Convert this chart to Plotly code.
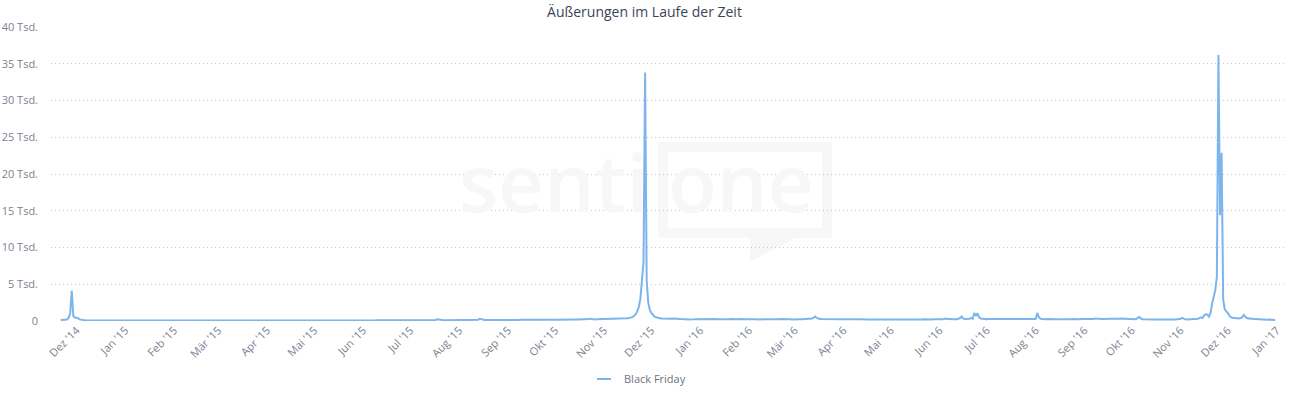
import pandas as pd
import plotly.graph_objects as go

# ---------------- data (daily mentions, "Black Friday") ----------------
start_date = "2014-11-21"

nov_2014 = [120, 150, 130, 160, 200, 420, 1000, 4150, 650, 480]
dec_2014 = [470, 380, 220, 150, 120, 110, 100, 95, 90, 100,
            95, 90, 85, 90, 95, 90, 85, 80, 85, 90,
            80, 75, 70, 60, 55, 60, 70, 75, 70, 80,
            90]
jan_2015 = [85, 70, 75, 80, 85, 80, 75, 80, 70, 65,
            70, 80, 85, 80, 75, 70, 65, 60, 75, 80,
            85, 80, 75, 70, 65, 75, 80, 85, 80, 75,
            70]
feb_2015 = [70, 75, 80, 85, 80, 75, 70, 65, 70, 80,
            75, 70, 65, 60, 70, 75, 80, 75, 70, 65,
            60, 70, 75, 80, 75, 70, 65, 70]
mar_2015 = [75, 80, 85, 80, 70, 65, 60, 70, 80, 85,
            80, 75, 70, 65, 60, 70, 75, 80, 85, 80,
            75, 70, 65, 70, 75, 80, 75, 70, 65, 60,
            70]
apr_2015 = [75, 80, 85, 90, 80, 70, 75, 80, 85, 80,
            75, 70, 65, 75, 80, 85, 80, 75, 70, 65,
            70, 80, 85, 90, 85, 80, 75, 70, 75, 80]
may_2015 = [85, 80, 75, 80, 85, 90, 85, 80, 75, 70,
            75, 80, 85, 80, 75, 70, 75, 80, 85, 90,
            85, 80, 75, 70, 75, 80, 85, 80, 75, 80,
            85]
jun_2015 = [80, 85, 90, 95, 90, 85, 80, 85, 90, 95,
            100, 95, 90, 85, 90, 95, 100, 95, 90, 85,
            90, 95, 100, 105, 100, 95, 90, 95, 100, 95]
jul_2015 = [100, 105, 110, 105, 100, 95, 100, 110, 115, 110,
            105, 100, 110, 120, 115, 110, 150, 230, 180, 130,
            120, 115, 110, 120, 125, 120, 115, 110, 120, 130,
            125]
aug_2015 = [120, 115, 125, 130, 125, 120, 130, 140, 135, 130,
            125, 140, 180, 300, 220, 160, 140, 135, 130, 140,
            145, 140, 135, 130, 140, 150, 145, 140, 135, 140,
            150]
sep_2015 = [150, 145, 140, 150, 160, 155, 150, 145, 155, 160,
            170, 165, 160, 155, 150, 160, 170, 165, 160, 170,
            180, 175, 170, 165, 175, 180, 170, 165, 175, 185]
oct_2015 = [180, 175, 185, 190, 185, 180, 190, 200, 195, 190,
            185, 195, 200, 210, 205, 200, 195, 205, 210, 220,
            215, 260, 320, 250, 220, 215, 225, 230, 225, 220,
            230]
nov_2015 = [230, 240, 235, 250, 260, 255, 250, 270, 280, 275,
            270, 290, 350, 300, 320, 380, 420, 450, 520, 700,
            900, 1300, 1900, 3000, 5500, 8000, 33800, 5500, 2500, 1500]
dec_2015 = [1100, 800, 600, 500, 420, 380, 350, 330, 310, 300,
            320, 290, 280, 300, 350, 310, 290, 280, 270, 260,
            280, 270, 250, 220, 200, 210, 230, 240, 250, 260,
            240]
jan_2016 = [250, 230, 240, 260, 270, 250, 240, 260, 280, 270,
            250, 240, 230, 250, 260, 270, 240, 230, 250, 260,
            240, 230, 220, 240, 250, 260, 240, 230, 220, 240,
            250]
feb_2016 = [240, 230, 250, 260, 240, 230, 220, 240, 250, 260,
            270, 250, 230, 220, 240, 250, 260, 240, 230, 250,
            260, 240, 230, 220, 240, 250, 230, 220, 240]
mar_2016 = [230, 240, 250, 260, 240, 230, 250, 260, 270, 280,
            300, 350, 450, 600, 420, 320, 280, 260, 250, 240,
            250, 260, 240, 230, 220, 240, 250, 230, 220, 230,
            240]
apr_2016 = [230, 220, 210, 230, 240, 220, 210, 200, 220, 230,
            240, 220, 210, 200, 220, 230, 210, 200, 190, 210,
            220, 230, 210, 200, 190, 210, 220, 200, 190, 200]
may_2016 = [210, 200, 190, 200, 220, 230, 210, 200, 190, 210,
            220, 200, 190, 180, 200, 210, 220, 200, 190, 210,
            220, 230, 210, 200, 190, 200, 220, 230, 210, 200,
            210]
jun_2016 = [220, 230, 240, 280, 330, 260, 240, 230, 250, 260,
            240, 250, 280, 400, 620, 320, 260, 250, 270, 300,
            420, 300, 1100, 700, 1050, 500, 350, 300, 280, 260]
jul_2016 = [250, 270, 260, 240, 250, 260, 270, 250, 240, 260,
            280, 300, 350, 280, 260, 250, 240, 260, 270, 250,
            240, 230, 250, 260, 270, 250, 240, 230, 250, 260,
            280]
aug_2016 = [300, 1100, 500, 300, 260, 250, 240, 260, 270, 250,
            280, 330, 270, 250, 240, 230, 250, 260, 240, 230,
            220, 240, 250, 260, 240, 230, 220, 240, 250, 270,
            260]
sep_2016 = [280, 300, 320, 310, 290, 280, 300, 320, 340, 310,
            290, 280, 300, 310, 290, 280, 300, 320, 310, 290,
            280, 300, 320, 330, 310, 290, 300, 320, 310, 300]
oct_2016 = [200, 220, 240, 300, 480, 520, 300, 240, 220, 210,
            200, 220, 230, 210, 200, 190, 210, 220, 230, 240,
            220, 210, 200, 220, 230, 250, 240, 220, 210, 230,
            280]
nov_2016 = [300, 420, 280, 220, 200, 210, 230, 250, 240, 260,
            280, 300, 420, 500, 400, 800, 900, 850, 600, 1100,
            2400, 3300, 4200, 6000, 36200, 14400, 22900, 2900, 1600, 1300]
dec_2016 = [1100, 700, 500, 450, 400, 420, 380, 350, 400, 500,
            800, 600, 400, 350, 380, 300, 280, 260, 300, 280,
            250, 230, 200, 180, 150, 170, 190, 200, 180, 160,
            150]

month_ticks = ["Dez '14", "Jan '15", "Feb '15", "Mär '15", "Apr '15", "Mai '15",
               "Jun '15", "Jul '15", "Aug '15", "Sep '15", "Okt '15", "Nov '15",
               "Dez '15", "Jan '16", "Feb '16", "Mär '16", "Apr '16", "Mai '16",
               "Jun '16", "Jul '16", "Aug '16", "Sep '16", "Okt '16", "Nov '16",
               "Dez '16", "Jan '17"]
y_tick_vals = [0, 5000, 10000, 15000, 20000, 25000, 30000, 35000, 40000]
y_tick_text = ["0", "5 Tsd.", "10 Tsd.", "15 Tsd.", "20 Tsd.", "25 Tsd.",
               "30 Tsd.", "35 Tsd.", "40 Tsd."]
series_name = "Black Friday"
title_text = "Äußerungen im Laufe der Zeit"

# ---------------- build ----------------
values = (nov_2014 + dec_2014 + jan_2015 + feb_2015 + mar_2015 + apr_2015 +
          may_2015 + jun_2015 + jul_2015 + aug_2015 + sep_2015 + oct_2015 +
          nov_2015 + dec_2015 + jan_2016 + feb_2016 + mar_2016 + apr_2016 +
          may_2016 + jun_2016 + jul_2016 + aug_2016 + sep_2016 + oct_2016 +
          nov_2016 + dec_2016)
dates = pd.date_range(start_date, periods=len(values), freq="D")
tick_dates = pd.date_range("2014-12-01", periods=len(month_ticks), freq="MS")

LINE = "#7cb5ec"
FONT = "Open Sans, Noto Sans, sans-serif"
W, H = 1289, 396
L, R, T, B = 51, 4, 27, 75
PW, PH = W - L - R, H - T - B


def px(x):
    return (x - L) / PW


def py(y):
    return (T + PH - y) / PH


fig = go.Figure()
fig.add_trace(go.Scatter(x=dates, y=values, mode="lines", name=series_name,
                         line=dict(color=LINE, width=2), showlegend=False,
                         hoverinfo="x+y"))
# legend entry (short line symbol like the original)
fig.add_trace(go.Scatter(x=[None], y=[None], mode="markers", name=series_name,
                         marker=dict(symbol="line-ew", size=10, color=LINE,
                                     line=dict(color=LINE, width=2)),
                         showlegend=True))

# faint watermark
WM = "#f7f7f7"
fig.add_annotation(xref="paper", yref="paper", x=px(457), y=py(180),
                   xanchor="left", yanchor="middle", text="senti", showarrow=False,
                   font=dict(family=FONT, size=80, color=WM, weight=600))
fig.add_annotation(xref="paper", yref="paper", x=px(666), y=py(180),
                   xanchor="left", yanchor="middle", text="one", showarrow=False,
                   font=dict(family=FONT, size=80, color=WM, weight=600))
outer = [(658, 142), (832, 142), (832, 238), (795, 238), (750, 262), (750, 238), (658, 238)]
inner = [(668, 152), (668, 228), (822, 228), (822, 152)]


def to_path(pts):
    return "M" + " L".join(f"{px(x):.5f},{py(y):.5f}" for x, y in pts) + " Z"


fig.add_shape(type="path", xref="paper", yref="paper", layer="below",
              path=to_path(outer) + " " + to_path(inner),
              fillcolor=WM, line=dict(width=0))

fig.update_layout(
    width=W, height=H,
    margin=dict(l=L, r=R, t=T, b=B, autoexpand=False),
    paper_bgcolor="white", plot_bgcolor="white",
    font=dict(family=FONT, size=11, color="#7b8291"),
    title=dict(text=title_text, x=0.5, xref="container", xanchor="center",
               y=1 - 12 / H, yref="container", yanchor="middle",
               font=dict(family=FONT, size=14, color="#3b4555")),
    showlegend=True,
    legend=dict(orientation="h", xref="container", yref="container",
                x=0.5 - 7 / W, xanchor="center", y=1 - 379 / H, yanchor="middle",
                font=dict(family=FONT, size=11, color="#6d7380"),
                bgcolor="rgba(0,0,0,0)", itemwidth=30),
    hovermode="x",
)
fig.update_xaxes(type="date", range=["2014-11-14 20:00", "2017-01-06 06:00"],
                 automargin=False,
                 showgrid=False, zeroline=False, showline=False, ticks="",
                 tickmode="array", tickvals=tick_dates, ticktext=month_ticks,
                 tickangle=-45, tickfont=dict(size=11, color="#7b8291"))
fig.update_yaxes(range=[0, 40000], tickmode="array", tickvals=y_tick_vals,
                 automargin=False,
                 ticktext=y_tick_text, showgrid=True, gridcolor="#c8c8c8",
                 gridwidth=1, griddash="1px,3px", zeroline=False, showline=False,
                 ticks="", ticklabelstandoff=12,
                 tickfont=dict(size=11, color="#7b8291"))

# the page body has a default 8px margin; remove it so the figure sits at (0, 0)
fig.write_html("out.html",
               config={"displayModeBar": False},
               post_script="document.body.style.margin='0';"
                           "document.body.style.overflow='hidden';")
